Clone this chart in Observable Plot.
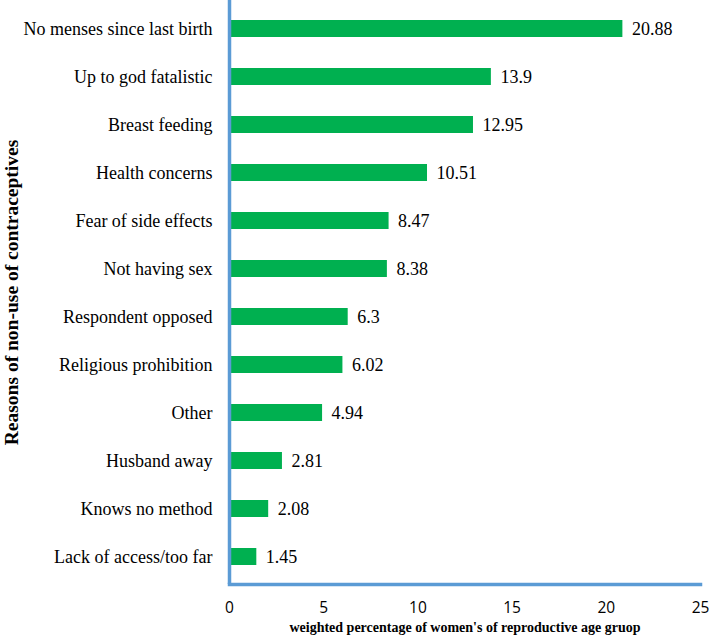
<!DOCTYPE html>
<html>
<head>
<meta charset="utf-8">
<script src="https://cdn.jsdelivr.net/npm/d3@7"></script>
<script src="https://cdn.jsdelivr.net/npm/@observablehq/plot@0.6"></script>
<style>
  body { margin: 0; background: #fff; }
  #chart svg { display: block; }
  #chart svg text { font-family: "Liberation Serif", "Times New Roman", serif !important; }
  #chart svg g[aria-label="x-axis tick label"] text { font-family: "Open Sans", "Liberation Sans", Arial, sans-serif !important; }
</style>
</head>
<body>
<div id="chart"></div>
<script>
const reasons = [
  "No menses since last birth",
  "Up to god fatalistic",
  "Breast feeding",
  "Health concerns",
  "Fear of side effects",
  "Not having sex",
  "Respondent opposed",
  "Religious prohibition",
  "Other",
  "Husband away",
  "Knows no method",
  "Lack of access/too far"
];
const percents = [20.88, 13.9, 12.95, 10.51, 8.47, 8.38, 6.3, 6.02, 4.94, 2.81, 2.08, 1.45];
const xTicks = [0, 5, 10, 15, 20, 25];
const xTitle = "weighted percentage of women's of reproductive age gruop";
const yTitle = "Reasons of non-use of contraceptives";

const data = reasons.map((r, i) => ({reason: r, value: percents[i]}));
const green = "#00b050";
const blue = "#5b9bd5";

const chart = Plot.plot({
  width: 709,
  height: 639,
  marginLeft: 229,
  marginRight: 9,
  marginTop: 0,
  marginBottom: 55,
  style: {background: "#fff", color: "#000"},
  x: {domain: [0, 25], ticks: xTicks},
  y: {domain: reasons, paddingInner: 0.65, paddingOuter: 0.325},
  marks: [
    Plot.barX(data, {x: "value", y: "reason", fill: green}),
    Plot.text(data, {x: "value", y: "reason", text: d => String(d.value), textAnchor: "start", dx: 9,
      fontSize: 18, fill: "#000"}),
    Plot.axisY({tickSize: 0, tickPadding: 17, label: null, fontSize: 18}),
    Plot.axisX({tickSize: 0, tickPadding: 17, label: null, ticks: xTicks, tickFormat: d => String(d),
      fontSize: 15.5}),
    Plot.text([xTitle], {frameAnchor: "bottom", dy: 47, text: d => d,
      fontWeight: "bold", fontSize: 14, fill: "#000"}),
    Plot.text([yTitle], {frameAnchor: "left", textAnchor: "middle", dx: -218, rotate: -90, text: d => d,
      fontWeight: "bold", fontSize: 19.5, fill: "#000"}),
    Plot.ruleX([0], {stroke: blue, strokeWidth: 3.5}),
    Plot.frame({anchor: "bottom", stroke: blue, strokeWidth: 3.5})
  ]
});
document.getElementById("chart").appendChild(chart);
</script>
</body>
</html>
